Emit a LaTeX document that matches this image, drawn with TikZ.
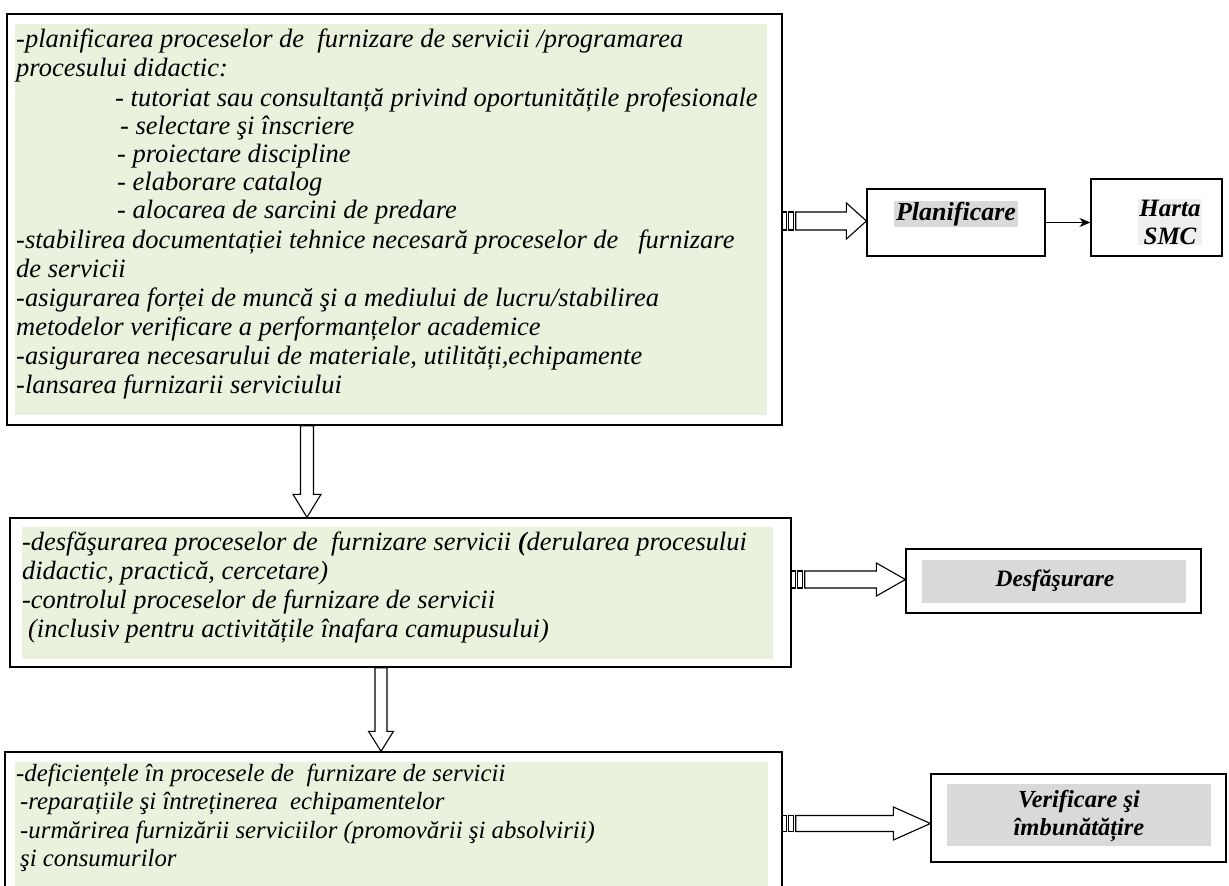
\documentclass[tikz,border=0pt]{standalone}
\usepackage{fontspec}
\setmainfont{Liberation Serif}
\usetikzlibrary{calc,arrows.meta}
\definecolor{boxgreen}{HTML}{EAF1DD}
\definecolor{hlgray}{HTML}{D9D9D9}
\definecolor{hllight}{HTML}{EFEFEF}
\tikzset{
  frame/.style={draw=black, line width=1.4pt, fill=white, inner sep=0pt},
  greenbg/.style={fill=boxgreen, draw=none},
  toptext/.style={anchor=base west, inner sep=0pt, font=\fontsize{26.5}{29}\selectfont\itshape},
  midtext/.style={anchor=base west, inner sep=0pt, font=\fontsize{26.4}{29}\selectfont\itshape},
  bottext/.style={anchor=base west, inner sep=0pt, font=\fontsize{24.8}{29}\selectfont\itshape},
  sidebox/.style={draw=black, line width=1.2pt, fill=white, inner sep=0pt},
  sidetext/.style={font=\fontsize{#1}{28}\selectfont\bfseries\itshape, inner sep=1pt, align=center},
  sidetext/.default=22,
  blockarrow/.style={draw=black, line width=1.1pt, fill=white},
}
% vertical block arrow: from (#1) down to tip (#2); half shaft #3, half head #4, head length #5
\newcommand{\vblockarrow}[5]{%
  \draw[blockarrow] ($(#1)+(-#3,0)$) -- ($(#2)+(-#3,-#5)$) -- ($(#2)+(-#4,-#5)$) -- (#2)
    -- ($(#2)+(#4,-#5)$) -- ($(#2)+(#3,-#5)$) -- ($(#1)+(#3,0)$) -- cycle;}
% striped block arrow: tail (#1) to tip (#2); half shaft #3, half head #4, head length #5
\newcommand{\sblockarrow}[5]{%
  \draw[blockarrow] ($(#1)+(0,-#3)$) rectangle ($(#1)+(4,#3)$);
  \draw[blockarrow] ($(#1)+(6,-#3)$) rectangle ($(#1)+(11,#3)$);
  \draw[blockarrow] ($(#1)+(13,-#3)$) -- ($(#2)+(-#5,-#3)$) -- ($(#2)+(-#5,-#4)$) -- (#2)
    -- ($(#2)+(-#5,#4)$) -- ($(#2)+(-#5,#3)$) -- ($(#1)+(13,#3)$) -- cycle;}
\begin{document}
\begin{tikzpicture}[x=1pt,y=-1pt]
\clip (0,0) rectangle (1229,886);
\fill[white] (0,0) rectangle (1229,886);

% ---------------- top box ----------------
\node[frame, minimum width=775pt, minimum height=411pt] (top) at (394.5,219.5) {};
\fill[greenbg] (15,24) rectangle (767,415);
\node[toptext] (t1) at (16,47) {-planificarea proceselor de\ \ furnizare de servicii /programarea};
\node[toptext] (t2) at (16,76) {procesului didactic:};
\node[toptext] (t3) at (115,106) {- tutoriat sau consultanță privind oportunitățile profesionale};
\node[toptext] (t4) at (120,134) {- selectare şi înscriere};
\node[toptext] (t5) at (117,162) {- proiectare discipline};
\node[toptext] (t6) at (117,190) {- elaborare catalog};
\node[toptext] (t7) at (117,218) {- alocarea de sarcini de predare};
\node[toptext] (t8) at (16,248) {-stabilirea documentației tehnice necesară proceselor de\ \ \ furnizare};
\node[toptext] (t9) at (16,277) {de servicii};
\node[toptext] (t10) at (16,306) {-asigurarea forței de muncă şi a mediului de lucru/stabilirea};
\node[toptext] (t11) at (16,335) {metodelor verificare a performanțelor academice};
\node[toptext] (t12) at (16,364) {-asigurarea necesarului de materiale, utilități,echipamente};
\node[toptext] (t13) at (16,393) {-lansarea furnizarii serviciului};

% ---------------- middle box ----------------
\node[frame, minimum width=781pt, minimum height=149pt] (mid) at (400.5,592.5) {};
\fill[greenbg] (22,527) rectangle (773,659);
\node[midtext] (m1) at (22,550) {-desfăşurarea proceselor de\ \ furnizare servicii \textbf{(}derularea procesului};
\node[midtext] (m2) at (22,579) {didactic, practică, cercetare)};
\node[midtext] (m3) at (22,608) {-controlul proceselor de furnizare de servicii};
\node[midtext] (m4) at (28,637) {(inclusiv pentru activitățile înafara camupusului)};

% ---------------- bottom box ----------------
\node[frame, minimum width=777pt, minimum height=150pt] (bot) at (393.5,827) {};
\fill[greenbg] (15,762) rectangle (768,890);
\node[bottext] (b1) at (16,781) {-deficiențele în procesele de\ \ furnizare de servicii};
\node[bottext] (b2) at (20,809) {-reparațiile şi întreținerea\ \ echipamentelor};
\node[bottext] (b3) at (20,838) {-urmărirea furnizării serviciilor (promovării şi absolvirii)};
\node[bottext] (b4) at (20,866) {şi consumurilor};

% ---------------- right side boxes ----------------
\node[sidebox, minimum width=178pt, minimum height=67pt] (plan) at (956,222.5) {};
\node[sidetext=26, fill=hlgray, inner xsep=2pt] (plant) at (956,214) {Planificare};
\node[sidebox, minimum width=131pt, minimum height=77pt] (harta) at (1156.5,217.5) {};
\node[sidetext=25, fill=hllight] (hartat) at (1170,222) {Harta\\SMC};
\node[sidebox, minimum width=295pt, minimum height=64pt] (desf) at (1053.5,581) {};
\fill[hlgray] (922,560) rectangle (1186,603);
\node[sidetext=23.5] (desft) at (1055,581) {Desfăşurare};
\node[sidebox, minimum width=295pt, minimum height=88pt] (verif) at (1078.5,818) {};
\fill[hlgray] (947,784) rectangle (1211,846);
\node[sidetext=24.5] (verift) at (1079,816) {Verificare şi\\îmbunătățire};

\draw[line width=1.2pt, -{Stealth[length=11pt,width=9pt]}] (plan.east) -- (plan.east -| harta.west);

% ---------------- vertical block arrows ----------------
\coordinate (xa) at (307,0);
\coordinate (xb) at (381,0);
\vblockarrow{top.south -| xa}{mid.north -| xa}{6.5}{14}{23}
\vblockarrow{mid.south -| xb}{bot.north -| xb}{6}{12.5}{20}

% ---------------- striped block arrows ----------------
\coordinate (ya) at (0,221);
\coordinate (yb) at (0,579.5);
\coordinate (yc) at (0,823.5);
\sblockarrow{top.east |- ya}{plan.west |- ya}{9}{18}{20}
\sblockarrow{mid.east |- yb}{desf.west |- yb}{8.5}{16.5}{29}
\sblockarrow{bot.east |- yc}{verif.west |- yc}{8}{16.5}{37}
\end{tikzpicture}
\end{document}
